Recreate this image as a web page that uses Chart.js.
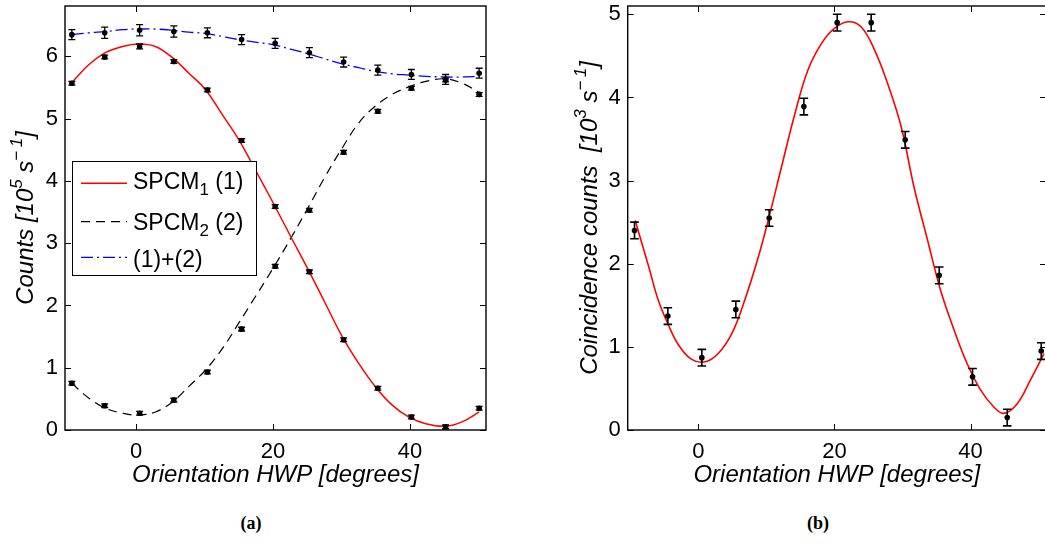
<!DOCTYPE html>
<html>
<head>
<meta charset="utf-8">
<script src="https://cdn.jsdelivr.net/npm/chart.js@4.4.1/dist/chart.umd.min.js"></script>
<style>
  html, body { margin: 0; padding: 0; background: #fff; }
  body { width: 1045px; height: 550px; position: relative; overflow: hidden; }
  .panel { position: absolute; top: 0; }
  #panelA { left: 0; width: 500px; height: 500px; }
  #panelB { left: 520px; width: 530px; height: 500px; }
  .caption {
    position: absolute; top: 513px; line-height: 1;
    font: bold 18px "Liberation Serif", "DejaVu Serif", serif;
    transform: translateX(-50%);
  }
</style>
</head>
<body>
<div class="panel" id="panelA"><canvas id="chartCounts" width="500" height="500"></canvas></div>
<div class="panel" id="panelB"><canvas id="chartCoinc" width="530" height="500"></canvas></div>
<div class="caption" style="left:251px">(a)</div>
<div class="caption" style="left:818px">(b)</div>
<script>
// --- (a) single counts, units 10^5 s^-1 ---
const hwpAngles   = [-9.4, -4.6, 0.5, 5.5, 10.4, 15.4, 20.3, 25.3, 30.3, 35.3, 40.2, 45.2, 50.1];
const spcm1Counts = [5.57, 5.99, 6.16, 5.92, 5.46, 4.65, 3.59, 2.54, 1.45, 0.67, 0.21, 0.05, 0.35];
const spcm1Errors = [0.03, 0.03, 0.04, 0.03, 0.03, 0.03, 0.03, 0.03, 0.03, 0.03, 0.03, 0.03, 0.03];
const spcm2Counts = [0.75, 0.39, 0.27, 0.48, 0.93, 1.62, 2.63, 3.53, 4.46, 5.12, 5.49, 5.62, 5.39];
const spcm2Errors = [0.03, 0.03, 0.03, 0.03, 0.03, 0.03, 0.03, 0.03, 0.03, 0.03, 0.03, 0.03, 0.03];
const sumCounts   = [6.35, 6.38, 6.42, 6.40, 6.38, 6.27, 6.21, 6.06, 5.91, 5.78, 5.71, 5.63, 5.73];
const sumErrors   = [0.08, 0.09, 0.09, 0.09, 0.08, 0.08, 0.08, 0.08, 0.08, 0.08, 0.08, 0.08, 0.08];

// fitted curves
const fitAngles = [-9.4, -6.9, -4.5, -2.0, 0.4, 2.8, 5.3, 7.7, 10.1, 12.6, 15.0, 17.4, 19.9,
                   22.8, 25.2, 27.6, 30.1, 32.5, 34.9, 37.4, 39.8, 42.3, 45.2, 47.6, 50.1];
const spcm1Fit = [5.58, 5.87, 6.06, 6.16, 6.20, 6.16, 5.98, 5.73, 5.47, 5.06, 4.66, 4.18, 3.67,
                  3.06, 2.56, 2.04, 1.50, 1.07, 0.70, 0.40, 0.21, 0.10, 0.06, 0.13, 0.29];
const spcm2Fit = [0.75, 0.51, 0.35, 0.27, 0.24, 0.29, 0.45, 0.70, 0.96, 1.31, 1.72, 2.14, 2.58,
                  3.12, 3.59, 4.07, 4.53, 4.93, 5.20, 5.39, 5.51, 5.60, 5.64, 5.57, 5.42];
const sumFit   = [6.35, 6.38, 6.40, 6.43, 6.44, 6.44, 6.42, 6.39, 6.37, 6.32, 6.27, 6.23, 6.19,
                  6.11, 6.04, 5.96, 5.88, 5.82, 5.76, 5.72, 5.70, 5.68, 5.67, 5.67, 5.68];

// --- (b) coincidences, units 10^3 s^-1 ---
const coincAngles = [-9.4, -4.5, 0.5, 5.5, 10.4, 15.5, 20.4, 25.4, 30.4, 35.4, 40.3, 45.4, 50.4];
const coincCounts = [2.40, 1.37, 0.87, 1.45, 2.55, 3.89, 4.90, 4.90, 3.49, 1.86, 0.64, 0.15, 0.95];
const coincErrors = [0.10, 0.10, 0.10, 0.10, 0.10, 0.10, 0.10, 0.10, 0.10, 0.10, 0.10, 0.10, 0.10];
const coincFitAngles = [-9.3, -7.3, -5.9, -4.4, -2.9, -1.0, 1.0, 2.9, 4.9, 6.8, 8.8, 10.5, 12.2,
                        14.2, 16.1, 18.1, 20.0, 22.0, 23.9, 25.9, 27.8, 29.8, 31.7, 33.7, 35.6,
                        37.6, 39.5, 41.5, 43.4, 44.9, 46.9, 48.8, 50.8];
const coincFit = [2.52, 1.96, 1.56, 1.26, 1.02, 0.85, 0.82, 0.92, 1.16, 1.56, 2.08, 2.60, 3.16,
                  3.81, 4.33, 4.65, 4.83, 4.91, 4.85, 4.57, 4.17, 3.65, 2.92, 2.28, 1.68,
                  1.20, 0.80, 0.48, 0.28, 0.20, 0.32, 0.60, 0.92];

// ticks
const angleTicks  = [0, 20, 40];
const countsTicks = [0, 1, 2, 3, 4, 5, 6];
const coincTicks  = [0, 1, 2, 3, 4, 5];

const FONT = '"Liberation Sans", Arial, sans-serif';
const RED = '#ff0000', BLUE = '#0000ff', BLACK = '#000000';
const DASH = [9, 6], DASHDOT = [12, 4, 2, 4];

function zip(xs, ys) { return xs.map((x, i) => ({ x, y: ys[i] })); }

// text with sup/sub parts, centred on (0,0) baseline
function drawRich(ctx, parts, size, italic, align) {
    const style = italic ? 'italic ' : '';
    const fontFor = p => style + Math.round(p.sup || p.sub ? size * 0.72 : size) + 'px ' + FONT;
    let total = 0;
    parts.forEach(p => { ctx.font = fontFor(p); total += ctx.measureText(p.t).width; });
    let x = align === 'left' ? 0 : -total / 2;
    ctx.textAlign = 'left';
    ctx.textBaseline = 'alphabetic';
    parts.forEach(p => {
        ctx.font = fontFor(p);
        const dy = p.sup ? -size * 0.45 : (p.sub ? size * 0.3 : 0);
        ctx.fillText(p.t, x, dy);
        x += ctx.measureText(p.t).width;
    });
}

const panelDecor = {
    id: 'panelDecor',
    afterDatasetsDraw(chart, args, opts) {
        const ctx = chart.ctx, xs = chart.scales.x, ys = chart.scales.y;
        ctx.save();
        ctx.strokeStyle = BLACK;
        ctx.lineWidth = opts.barWidth || 1.3;
        chart.data.datasets.forEach(ds => {
            if (!ds.errors) return;
            ds.data.forEach((pt, i) => {
                const px = xs.getPixelForValue(pt.x);
                const lo = ys.getPixelForValue(pt.y - ds.errors[i]);
                const hi = ys.getPixelForValue(pt.y + ds.errors[i]);
                const c = opts.cap || 3.5;
                ctx.beginPath();
                ctx.moveTo(px, lo); ctx.lineTo(px, hi);
                ctx.moveTo(px - c, lo); ctx.lineTo(px + c, lo);
                ctx.moveTo(px - c, hi); ctx.lineTo(px + c, hi);
                ctx.stroke();
            });
        });
        ctx.restore();
    },
    afterDraw(chart, args, opts) {
        const ctx = chart.ctx, a = chart.chartArea;
        const xs = chart.scales.x, ys = chart.scales.y;
        ctx.save();
        // box and inward ticks, matlab style
        ctx.strokeStyle = BLACK;
        ctx.lineWidth = 1.4;
        ctx.strokeRect(a.left, a.top, a.right - a.left, a.bottom - a.top);
        ctx.lineWidth = 1;
        const tl = 6;
        ctx.beginPath();
        xs.ticks.forEach(t => {
            const px = Math.round(xs.getPixelForValue(t.value)) + 0.5;
            ctx.moveTo(px, a.bottom); ctx.lineTo(px, a.bottom - tl);
            ctx.moveTo(px, a.top); ctx.lineTo(px, a.top + tl);
        });
        ys.ticks.forEach(t => {
            const py = Math.round(ys.getPixelForValue(t.value)) + 0.5;
            ctx.moveTo(a.left, py); ctx.lineTo(a.left + tl, py);
            ctx.moveTo(a.right, py); ctx.lineTo(a.right - tl, py);
        });
        ctx.stroke();

        // axis titles
        ctx.fillStyle = BLACK;
        ctx.save();
        ctx.translate((a.left + a.right) / 2, opts.xTitleY);
        drawRich(ctx, [{ t: opts.xTitle }], 24, true);
        ctx.restore();
        ctx.save();
        ctx.translate(opts.yTitleX, (a.top + a.bottom) / 2);
        ctx.rotate(-Math.PI / 2);
        drawRich(ctx, opts.yTitle, 23.5, true);
        ctx.restore();

        // legend
        if (opts.legend) {
            const L = opts.legend;
            ctx.fillStyle = '#fff';
            ctx.fillRect(L.x, L.y, L.w, L.h);
            ctx.strokeStyle = BLACK;
            ctx.lineWidth = 1;
            ctx.strokeRect(L.x + 0.5, L.y + 0.5, L.w, L.h);
            L.items.forEach(it => {
                ctx.save();
                ctx.strokeStyle = it.color;
                ctx.lineWidth = it.width;
                ctx.setLineDash(it.dash);
                ctx.beginPath();
                ctx.moveTo(L.x + 9, it.lineY); ctx.lineTo(L.x + 55, it.lineY);
                ctx.stroke();
                ctx.restore();
                ctx.save();
                ctx.fillStyle = BLACK;
                ctx.translate(L.x + 61, it.textY);
                drawRich(ctx, it.parts, 23, false, 'left');
                ctx.restore();
            });
        }
        ctx.restore();
    }
};

// no label overflow padding, so the plot box sits where the figure has it
function noOverflow(s) {
    s.paddingTop = 0; s.paddingBottom = 0; s.paddingLeft = 0; s.paddingRight = 0;
}

function xAxis() {
    return {
        type: 'linear', min: -10.4, max: 51.1,
        afterBuildTicks: s => { s.ticks = angleTicks.map(v => ({ value: v })); },
        afterFit: s => { s.height = 70; noOverflow(s); },
        grid: { display: false, drawTicks: false },
        border: { display: false },
        ticks: { color: BLACK, font: { family: FONT, size: 22 }, padding: 9, maxRotation: 0 }
    };
}

function yAxis(max, tickVals, width) {
    return {
        type: 'linear', min: 0, max: max,
        afterBuildTicks: s => { s.ticks = tickVals.map(v => ({ value: v })); },
        afterFit: s => { s.width = width; noOverflow(s); },
        grid: { display: false, drawTicks: false },
        border: { display: false },
        ticks: { color: BLACK, font: { family: FONT, size: 22 }, padding: 7 }
    };
}

function fitLine(xs, ys, color, dash, width) {
    return {
        data: zip(xs, ys), showLine: true, pointRadius: 0, borderColor: color,
        borderWidth: width, borderDash: dash, tension: 0.4, order: 3
    };
}

function pointSet(xs, ys, errs) {
    return {
        data: zip(xs, ys), errors: errs, showLine: false, pointRadius: 2.8,
        pointHoverRadius: 2.8, backgroundColor: BLACK, borderWidth: 0, order: 1
    };
}

new Chart(document.getElementById('chartCounts'), {
    type: 'scatter',
    data: {
        datasets: [
            fitLine(fitAngles, spcm1Fit, RED, [], 1.5),
            fitLine(fitAngles, spcm2Fit, BLACK, DASH, 1.2),
            fitLine(fitAngles, sumFit, BLUE, DASHDOT, 1.3),
            pointSet(hwpAngles, spcm1Counts, spcm1Errors),
            pointSet(hwpAngles, spcm2Counts, spcm2Errors),
            pointSet(hwpAngles, sumCounts, sumErrors)
        ]
    },
    options: {
        responsive: false, animation: false, events: [],
        layout: { padding: { top: 6, right: 14, left: 0, bottom: 0 } },
        scales: { x: xAxis(), y: yAxis(6.81, countsTicks, 65) },
        plugins: {
            legend: { display: false }, tooltip: { enabled: false },
            panelDecor: {
                cap: 3.5, barWidth: 1.3,
                xTitle: 'Orientation HWP [degrees]', xTitleY: 482,
                yTitle: [{ t: 'Counts [10' }, { t: '5', sup: true }, { t: ' s' }, { t: '\u2212\u20091', sup: true }, { t: ']' }],
                yTitleX: 33,
                legend: {
                    x: 72, y: 161, w: 184, h: 114,
                    items: [
                        { parts: [{ t: 'SPCM' }, { t: '1', sub: true }, { t: ' (1)' }], color: RED, dash: [], width: 1.5, lineY: 183.3, textY: 188.5 },
                        { parts: [{ t: 'SPCM' }, { t: '2', sub: true }, { t: ' (2)' }], color: BLACK, dash: DASH, width: 1.2, lineY: 221.7, textY: 229.5 },
                        { parts: [{ t: '(1)+(2)' }], color: BLUE, dash: DASHDOT, width: 1.3, lineY: 257.3, textY: 267 }
                    ]
                }
            }
        }
    },
    plugins: [panelDecor]
});

new Chart(document.getElementById('chartCoinc'), {
    type: 'scatter',
    data: {
        datasets: [
            fitLine(coincFitAngles, coincFit, RED, [], 1.6),
            pointSet(coincAngles, coincCounts, coincErrors)
        ]
    },
    options: {
        responsive: false, animation: false, events: [],
        layout: { padding: { top: 6, right: 4, left: 0, bottom: 0 } },
        scales: { x: xAxis(), y: yAxis(5.1, coincTicks, 107.7) },
        plugins: {
            legend: { display: false }, tooltip: { enabled: false },
            panelDecor: {
                cap: 4.3, barWidth: 1.6,
                xTitle: 'Orientation HWP [degrees]', xTitleY: 482,
                yTitle: [{ t: 'Coincidence counts  [10' }, { t: '3', sup: true }, { t: ' s' }, { t: '\u2212\u20091', sup: true }, { t: ']' }],
                yTitleX: 77
            }
        }
    },
    plugins: [panelDecor]
});
</script>
</body>
</html>
